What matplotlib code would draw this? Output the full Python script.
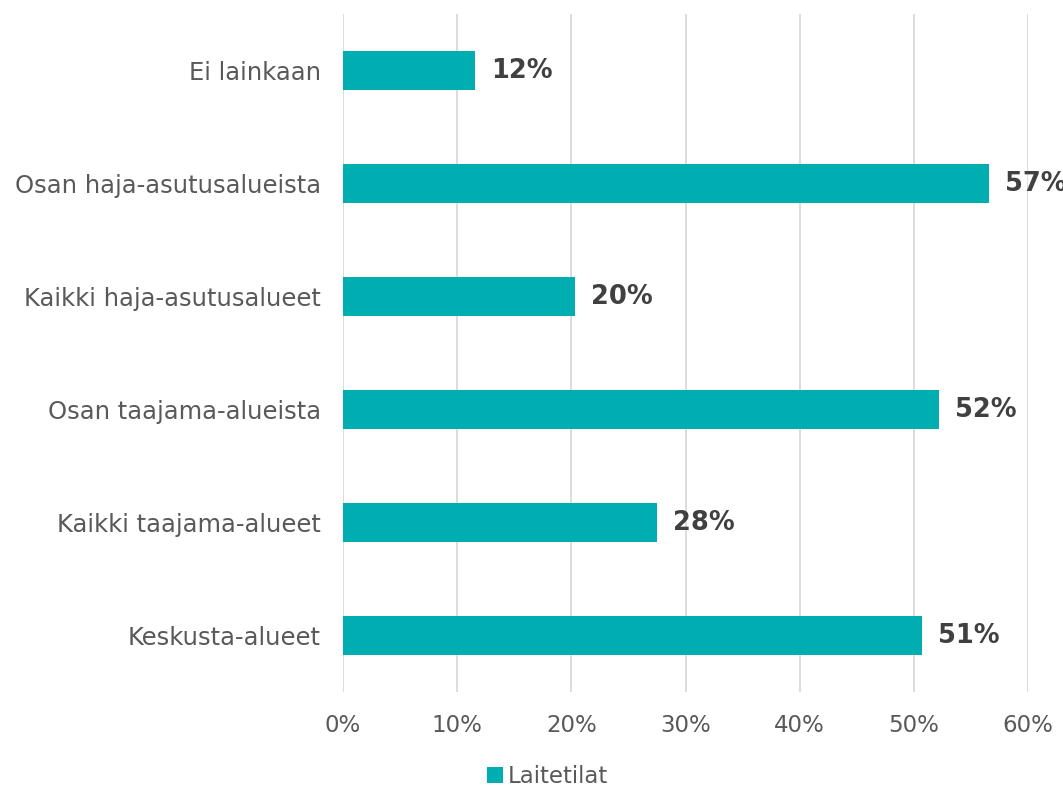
import matplotlib as mpl
mpl.use('Agg')
import matplotlib.pyplot as plt
import numpy as np

categories = ["Keskusta-alueet", "Kaikki taajama-alueet", "Osan taajama-alueista",
              "Kaikki haja-asutusalueet", "Osan haja-asutusalueista", "Ei lainkaan"]
values = [0.507, 0.275, 0.522, 0.203, 0.566, 0.116]
labels = ["51%", "28%", "52%", "20%", "57%", "12%"]
series_name = "Laitetilat"

plt.rcParams['font.family'] = ['DejaVu Sans']

fig = plt.figure(figsize=(10.63, 7.87), dpi=100)
ax = fig.add_axes([0.3227, 0.1207, 0.6444, 0.8615])

y = np.arange(len(categories))
ax.barh(y, values, height=0.35, color='#00AEB1', label=series_name, zorder=2)

for yi, v, lab in zip(y, values, labels):
    ax.text(v + 0.014, yi, lab, va='center', ha='left', fontsize=18.5,
            fontweight='bold', color='#404040', clip_on=False)

ax.set_xlim(0, 0.6)
ax.set_ylim(-0.5, 5.5)
ax.set_xticks(np.arange(0, 0.61, 0.1))
ax.set_xticklabels(["%d%%" % (t * 100) for t in np.arange(0, 0.61, 0.1).round(1)])
ax.set_yticks(y)
ax.set_yticklabels(categories)
ax.tick_params(axis='both', length=0, labelsize=16.5, labelcolor='#595959')
ax.tick_params(axis='y', labelsize=17.5)
ax.tick_params(axis='x', pad=16)
ax.tick_params(axis='y', pad=16)
ax.grid(axis='x', color='#D9D9D9', linewidth=1.3, zorder=0)
for s in ax.spines.values():
    s.set_visible(False)

fig.legend(loc='center', bbox_to_anchor=(0.515, 0.013), frameon=False, fontsize=16.5,
           handlelength=0.7, handleheight=0.7, handletextpad=0.2, labelcolor='#595959')

fig.savefig('out.png', dpi=100)
